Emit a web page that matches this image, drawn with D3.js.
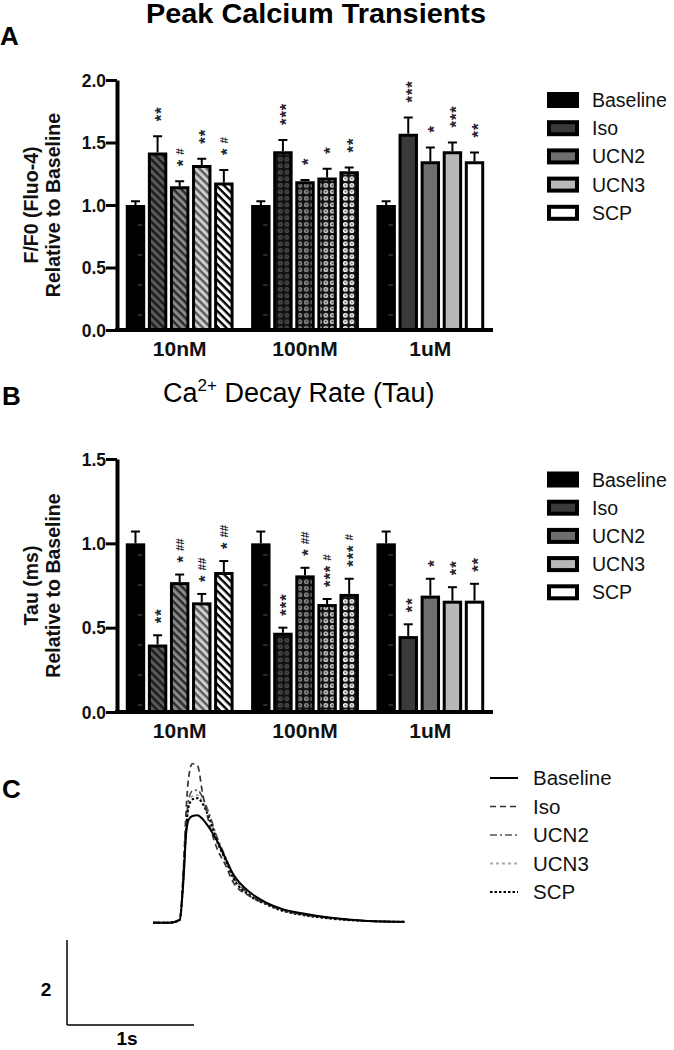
<!DOCTYPE html>
<html>
<head>
<meta charset="utf-8">
<script src="https://cdn.jsdelivr.net/npm/d3@7/dist/d3.min.js"></script>
<style>
  html, body { margin: 0; padding: 0; background: #fff; }
  svg { display: block; }
  text { font-family: "Liberation Sans", Arial, sans-serif; }
</style>
</head>
<body>
<svg id="fig" width="674" height="1050"></svg>
<script>
// ---------------- DATA ----------------
const groups = ["10nM", "100nM", "1uM"];
const series = ["Baseline", "Iso", "UCN2", "UCN3", "SCP"];

// Panel A: Peak calcium transients (F/F0 relative to baseline)
const peakValues = [
  [1.00, 1.42, 1.15, 1.32, 1.18],
  [1.00, 1.43, 1.19, 1.22, 1.27],
  [1.00, 1.57, 1.35, 1.43, 1.35]
];
const peakErrors = [
  [0.03, 0.13, 0.04, 0.05, 0.10],
  [0.03, 0.09, 0.01, 0.07, 0.03],
  [0.03, 0.13, 0.11, 0.07, 0.07]
];
const peakSig = [
  ["", "**", "*#", "**", "*#"],
  ["", "***", "*", "*", "**"],
  ["", "***", "*", "***", "**"]
];
const peakTicks = [0, 0.5, 1.0, 1.5, 2.0];

// Panel B: Ca2+ decay rate (Tau relative to baseline)
const tauValues = [
  [1.00, 0.40, 0.77, 0.65, 0.83],
  [1.00, 0.47, 0.81, 0.64, 0.70],
  [1.00, 0.45, 0.69, 0.66, 0.66]
];
const tauErrors = [
  [0.07, 0.055, 0.045, 0.05, 0.065],
  [0.07, 0.03, 0.045, 0.03, 0.09],
  [0.07, 0.07, 0.10, 0.08, 0.10]
];
const tauSig = [
  ["", "**", "*##", "*##", "*##"],
  ["", "***", "*##", "***#", "***#"],
  ["", "**", "*", "**", "**"]
];
const tauTicks = [0, 0.5, 1.0, 1.5];

// Panel C: representative traces (time in s, F/F0)
const traceTime = [0, 0.13, 0.21, 0.24, 0.26, 0.28, 0.31, 0.35, 0.39, 0.45, 0.50, 0.57, 0.63, 0.76, 0.90, 1.02, 1.16, 1.42, 1.69, 1.98];
const traceBaseline = [1.00, 1.00, 1.06, 2.00, 3.06, 3.42, 3.51, 3.53, 3.44, 3.20, 2.95, 2.52, 2.15, 1.72, 1.46, 1.32, 1.23, 1.11, 1.04, 1.02];
const traceIso      = [1.00, 1.00, 1.08, 2.30, 3.60, 4.40, 4.74, 4.70, 4.05, 3.25, 2.78, 2.36, 1.96, 1.63, 1.44, 1.30, 1.20, 1.11, 1.04, 1.02];
const traceUCN2     = [1.00, 1.00, 1.07, 2.20, 3.30, 3.90, 4.10, 4.12, 3.95, 3.50, 3.05, 2.55, 2.12, 1.68, 1.45, 1.30, 1.21, 1.10, 1.04, 1.02];
const traceUCN3     = [1.00, 1.00, 1.07, 2.15, 3.20, 3.80, 3.98, 4.00, 3.85, 3.45, 3.00, 2.50, 2.08, 1.65, 1.43, 1.29, 1.20, 1.09, 1.04, 1.02];
const traceSCP      = [1.00, 1.00, 1.06, 2.10, 3.15, 3.72, 3.90, 3.93, 3.80, 3.40, 2.95, 2.48, 2.06, 1.64, 1.42, 1.28, 1.19, 1.09, 1.04, 1.02];
const traces = [traceBaseline, traceIso, traceUCN2, traceUCN3, traceSCP];

// ---------------- STYLE ----------------
const FONT = '"Liberation Sans", Arial, sans-serif';
const solidFill = { Baseline: "#000", Iso: "#3a3a3a", UCN2: "#6e6e6e", UCN3: "#b8b8b8", SCP: "#ffffff" };
const stripeBg = { Iso: "#5a5a5a", UCN2: "#8a8a8a", UCN3: "#cfcfcf", SCP: "#ffffff" };
const stripeFg = { Iso: "#1a1a1a", UCN2: "#2a2a2a", UCN3: "#5a5a5a", SCP: "#000000" };
const ringFg = { Iso: "#4a4a4a", UCN2: "#8c8c8c", UCN3: "#d2d2d2", SCP: "#ffffff" };
const lineStyle = {
  Baseline: { color: "#000", dash: null, w: 2 },
  Iso: { color: "#333", dash: "6,4", w: 1.7 },
  UCN2: { color: "#555", dash: "7,3,2,3", w: 1.7 },
  UCN3: { color: "#a8a8a8", dash: "3,3", w: 1.8 },
  SCP: { color: "#000", dash: "2.5,2", w: 2 }
};

const svg = d3.select("#fig");
const defs = svg.append("defs");

// stripes patterns (10nM)
series.slice(1).forEach(s => {
  const p = defs.append("pattern").attr("id", "stripe-" + s)
    .attr("patternUnits", "userSpaceOnUse").attr("width", 5.5).attr("height", 5.5)
    .attr("patternTransform", "rotate(45)");
  p.append("rect").attr("width", 5.5).attr("height", 5.5).attr("fill", stripeBg[s]);
  p.append("rect").attr("y", 0).attr("width", 5.5).attr("height", 2.4).attr("fill", stripeFg[s]);
});
// ring patterns (100nM)
series.slice(1).forEach(s => {
  const p = defs.append("pattern").attr("id", "ring-" + s)
    .attr("patternUnits", "userSpaceOnUse").attr("width", 6.5).attr("height", 6.5);
  p.append("rect").attr("width", 6.5).attr("height", 6.5).attr("fill", "#111");
  p.append("circle").attr("cx", 3.25).attr("cy", 3.25).attr("r", 2.4).attr("fill", ringFg[s]);
  p.append("circle").attr("cx", 3.25).attr("cy", 3.25).attr("r", 1.0).attr("fill", s === "SCP" ? "#444" : "#222");
});
// baseline faint dashes
{
  const p = defs.append("pattern").attr("id", "basedash")
    .attr("patternUnits", "userSpaceOnUse").attr("width", 125.33).attr("height", 30).attr("x", 0).attr("y", 0);
  p.append("rect").attr("width", 125.33).attr("height", 30).attr("fill", "#000");
  p.append("line").attr("x1", 12).attr("x2", 17).attr("y1", 15).attr("y2", 15)
    .attr("stroke", "#555").attr("stroke-width", 1);
}

function fillFor(gi, s) {
  if (s === "Baseline") return "url(#basedash)";
  if (gi === 0) return "url(#stripe-" + s + ")";
  if (gi === 1) return "url(#ring-" + s + ")";
  return solidFill[s];
}

function addText(parent, x, y, str, opts) {
  const t = parent.append("text").attr("x", x).attr("y", y)
    .attr("font-family", FONT)
    .attr("font-size", opts.size || 16)
    .attr("font-weight", opts.weight || "normal")
    .attr("text-anchor", opts.anchor || "start")
    .attr("fill", opts.fill || "#000")
    .text(str);
  if (opts.len) t.attr("textLength", opts.len).attr("lengthAdjust", "spacingAndGlyphs");
  return t;
}

function sigLabel(parent, cx, yBottom, str) {
  const stars = str.replace(/#/g, "");
  const hashes = str.replace(/\*/g, "");
  const t = parent.append("text")
    .attr("transform", `translate(${cx + 9.4},${yBottom}) rotate(-90)`)
    .attr("font-family", FONT).attr("font-weight", "bold").attr("fill", "#22222e");
  t.append("tspan").attr("font-size", 16.5).attr("letter-spacing", 1.0).text(stars);
  if (hashes) {
    t.append("tspan").attr("font-size", 11.5).attr("dy", -5.5).attr("dx", 4).attr("letter-spacing", 0).text(hashes);
  }
}

// ---------------- BAR PANEL ----------------
function barPanel(cfg) {
  const g = svg.append("g");
  const y = d3.scaleLinear().domain(cfg.domain).range(cfg.yRange);
  const x0 = d3.scaleBand().domain(groups).range([117, 493]).paddingInner(0.14).paddingOuter(0.07);
  const x1 = d3.scaleBand().domain(series).range([0, x0.bandwidth()]).paddingInner(0.12);
  const sw = 3;

  groups.forEach((grp, gi) => {
    const gg = g.append("g").attr("transform", `translate(${x0(grp)},0)`);
    series.forEach((s, si) => {
      const v = cfg.values[gi][si];
      const e = cfg.errors[gi][si];
      const bx = x1(s);
      const cx = bx + x1.bandwidth() / 2;
      // error bar (upper only)
      gg.append("line").attr("x1", cx).attr("x2", cx).attr("y1", y(v)).attr("y2", y(v + e))
        .attr("stroke", "#000").attr("stroke-width", 2);
      gg.append("line").attr("x1", cx - 4.5).attr("x2", cx + 4.5).attr("y1", y(v + e)).attr("y2", y(v + e))
        .attr("stroke", "#000").attr("stroke-width", 2);
      // bar
      gg.append("rect")
        .attr("x", bx + sw / 2).attr("y", y(v) + sw / 2)
        .attr("width", x1.bandwidth() - sw).attr("height", y(0) - y(v) - sw / 2)
        .attr("fill", fillFor(gi, s)).attr("stroke", "#000").attr("stroke-width", sw);
      // significance
      const sig = cfg.sig[gi][si];
      if (sig) sigLabel(gg, cx, y(v + e) - cfg.sigGap, sig);
    });
  });

  // y axis
  const ya = g.append("g").attr("transform", "translate(117,0)")
    .call(d3.axisLeft(y).tickValues(cfg.ticks).tickFormat(d3.format(".1f")).tickSize(11).tickSizeOuter(0).tickPadding(1));
  ya.select(".domain").attr("stroke", "#000").attr("stroke-width", 4);
  ya.selectAll(".tick line").attr("stroke", "#000").attr("stroke-width", 3);
  ya.selectAll(".tick text").attr("font-family", FONT).attr("font-size", 17.5).attr("font-weight", "bold")
    .attr("fill", "#111").attr("x", -11).attr("dy", "0.36em");

  // x axis
  const xa = g.append("g").attr("transform", `translate(0,${y(0)})`)
    .call(d3.axisBottom(x0).tickSize(0).tickSizeOuter(0));
  xa.select(".domain").attr("stroke", "#000").attr("stroke-width", 4).attr("d", `M115,0H493`);
  xa.selectAll(".tick text").attr("font-family", FONT).attr("font-size", 21).attr("font-weight", "bold")
    .attr("fill", "#111").attr("dy", null).attr("y", 26);

  // y axis title (two lines)
  const yc = (cfg.yRange[0] + cfg.yRange[1]) / 2;
  const yt = g.append("text").attr("transform", `translate(0,${yc}) rotate(-90)`)
    .attr("font-family", FONT).attr("font-size", 19.5).attr("font-weight", "bold")
    .attr("text-anchor", "middle").attr("fill", "#111");
  yt.append("tspan").attr("x", 0).attr("y", 38).text(cfg.yTitle1);
  yt.append("tspan").attr("x", 0).attr("y", 60).text("Relative to Baseline");

  // legend
  const lg = g.append("g");
  series.forEach((s, i) => {
    const cy = cfg.legendY + i * 28.2;
    lg.append("rect").attr("x", 549).attr("y", cy - 6).attr("width", 28).attr("height", 12)
      .attr("fill", solidFill[s]).attr("stroke", "#000").attr("stroke-width", 4);
    addText(lg, 592, cy + 7, s, { size: 19.5, fill: "#111" });
  });
}

// Panel A
addText(svg, 0, 45, "A", { size: 26, weight: "bold" });
addText(svg, 316, 23, "Peak Calcium Transients", { size: 27, weight: "bold", anchor: "middle", len: 340 });
barPanel({
  domain: [0, 2], yRange: [330, 80], ticks: peakTicks,
  values: peakValues, errors: peakErrors, sig: peakSig, sigGap: 15,
  yTitle1: "F/F0 (Fluo-4)", legendY: 100
});

// Panel B
addText(svg, 2, 405, "B", { size: 26, weight: "bold" });
{
  const t = svg.append("text").attr("x", 163).attr("y", 402)
    .attr("font-family", FONT).attr("font-size", 27).attr("fill", "#000");
  t.append("tspan").text("Ca");
  t.append("tspan").attr("font-size", 17).attr("dy", -11).text("2+");
  t.append("tspan").attr("dy", 11).text(" Decay Rate (Tau)");
}
barPanel({
  domain: [0, 1.5], yRange: [712, 459], ticks: tauTicks,
  values: tauValues, errors: tauErrors, sig: tauSig, sigGap: 12,
  yTitle1: "Tau (ms)", legendY: 479.5
});

// Panel C
addText(svg, 2, 798, "C", { size: 26, weight: "bold" });
{
  const xt = d3.scaleLinear().domain([0, 1]).range([153, 280]);
  const yt = d3.scaleLinear().domain([1, 3]).range([922.7, 837.7]);
  const line = d3.line().x((d, i) => xt(traceTime[i])).y(d => yt(d)).curve(d3.curveMonotoneX);
  const gc = svg.append("g");
  const order = [3, 2, 4, 1, 0];
  order.forEach(k => {
    const st = lineStyle[series[k]];
    gc.append("path").attr("d", line(traces[k])).attr("fill", "none")
      .attr("stroke", st.color).attr("stroke-width", st.w)
      .attr("stroke-dasharray", st.dash);
  });
  // scale bar
  const sx = d3.scaleLinear().domain([0, 1]).range([67, 194]);
  const sy = d3.scaleLinear().domain([0, 2]).range([1025, 940]);
  gc.append("line").attr("x1", sx(0)).attr("x2", sx(0)).attr("y1", sy(0)).attr("y2", sy(2))
    .attr("stroke", "#000").attr("stroke-width", 1.5);
  gc.append("line").attr("x1", sx(0)).attr("x2", sx(1)).attr("y1", sy(0)).attr("y2", sy(0))
    .attr("stroke", "#000").attr("stroke-width", 1.5);
  addText(gc, 46, 996, "2", { size: 19, weight: "bold", anchor: "middle" });
  addText(gc, 127, 1045, "1s", { size: 19, weight: "bold", anchor: "middle" });
  // legend
  series.forEach((s, i) => {
    const cy = 778 + i * 28.5;
    const st = lineStyle[s];
    gc.append("line").attr("x1", 490).attr("x2", 518).attr("y1", cy).attr("y2", cy)
      .attr("stroke", st.color).attr("stroke-width", st.w).attr("stroke-dasharray", st.dash);
    addText(gc, 533, cy + 7, s, { size: 20.5, fill: "#111" });
  });
}
</script>
</body>
</html>
